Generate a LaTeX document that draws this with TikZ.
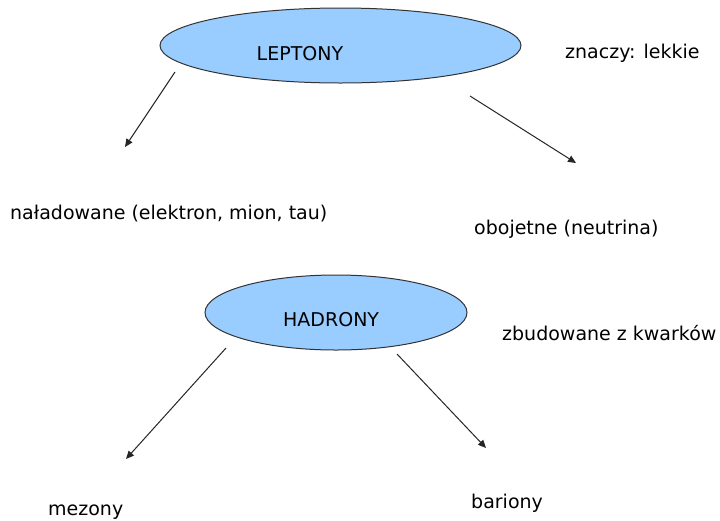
\documentclass[tikz,border=0pt]{standalone}
\usepackage{fontspec}
\setmainfont{DejaVu Sans}
\usetikzlibrary{shapes.geometric,arrows.meta}
\definecolor{ellfill}{HTML}{99CCFF}
\tikzset{
  oval/.style={ellipse, draw=black!80, line width=1pt, fill=ellfill, inner sep=0pt},
  lbl/.style={anchor=west, inner sep=0pt, font=\fontsize{19}{22}\selectfont, text=black},
  arr/.style={draw=black!85, line width=1pt, -{Triangle[length=8pt,width=7pt]}}
}
\begin{document}
\begin{tikzpicture}[x=1pt,y=-1pt]
\useasboundingbox[fill=white] (0,0) rectangle (720,520);
% ellipses
\node[oval, minimum width=361pt, minimum height=75pt] (lep) at (340.5,45.5) {};
\node[lbl] (leptxt) at (256.5,54) {LEPTONY};
\node[oval, minimum width=262pt, minimum height=75pt] (had) at (336,312.5) {};
\node[lbl] (hadtxt) at (283,320) {HADRONY};
% side notes
\node[lbl] (znaczy) at (565,53) {znaczy: lekkie};
\node[lbl] (zbud) at (502,333) {zbudowane z kwarków};
% leaves
\node[lbl] (nal) at (10,214) {naładowane (elektron, mion, tau)};
\node[lbl] (obo) at (474,229) {obojetne (neutrina)};
\node[lbl] (mez) at (48,512) {mezony};
\node[lbl] (bar) at (471,503) {bariony};
% arrow end points
\coordinate (a1s) at (175,72);
\coordinate (a1e) at (125,147);
\coordinate (a2s) at (470,96);
\coordinate (a2e) at (576,163);
\coordinate (a3s) at (226,348);
\coordinate (a3e) at (126,459);
\coordinate (a4s) at (397,354);
\coordinate (a4e) at (486,448);
\draw[arr] (a1s) -- (a1e);
\draw[arr] (a2s) -- (a2e);
\draw[arr] (a3s) -- (a3e);
\draw[arr] (a4s) -- (a4e);
\end{tikzpicture}
\end{document}
